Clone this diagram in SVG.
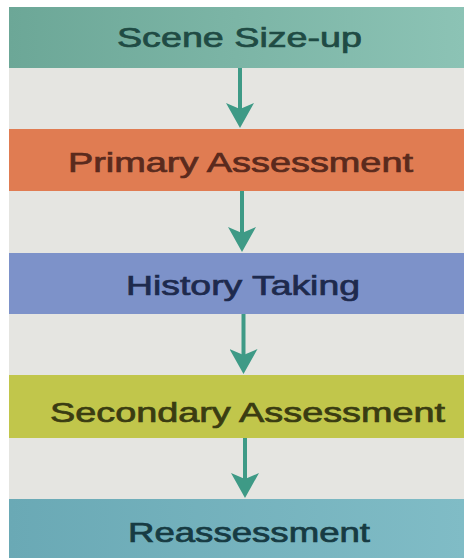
<svg xmlns="http://www.w3.org/2000/svg" width="464" height="558" viewBox="0 0 464 558">
  <defs>
    <marker id="head" viewBox="0 0 25 28" refX="13" refY="14" markerWidth="25" markerHeight="28" markerUnits="userSpaceOnUse" orient="auto">
      <path d="M0,0 L25,14 L0,28 L6,14 Z" fill="#3e9a86"/>
    </marker>
    <linearGradient id="g1" x1="0" x2="1" y1="0" y2="0">
      <stop offset="0" stop-color="#6ca797"/>
      <stop offset="1" stop-color="#8cc3b5"/>
    </linearGradient>
    <linearGradient id="g5" x1="0" x2="1" y1="0" y2="0">
      <stop offset="0" stop-color="#6aa9b5"/>
      <stop offset="1" stop-color="#80bcc6"/>
    </linearGradient>
  </defs>
  <style>
    .lbl { font-family: "Liberation Sans", Arial, sans-serif; font-size: 27px; text-anchor: middle; stroke-width: 0.7; }
    .conn { stroke: #3e9a86; stroke-width: 4; fill: none; marker-end: url(#head); }
  </style>
  <rect x="0" y="0" width="464" height="558" fill="#ffffff"/>
  <rect x="9" y="7" width="455" height="551" fill="#e5e5e1"/>

  <g id="scene-size-up">
    <rect x="9" y="7" width="455" height="61" fill="url(#g1)"/>
    <text class="lbl" x="239.5" y="47" textLength="245" lengthAdjust="spacingAndGlyphs" fill="#1f4b44" stroke="#1f4b44">Scene Size-up</text>
  </g>
  <g id="primary-assessment">
    <rect x="9" y="129" width="455" height="62" fill="#e07c52"/>
    <text class="lbl" x="240.5" y="172" textLength="345" lengthAdjust="spacingAndGlyphs" fill="#5a2a1d" stroke="#5a2a1d">Primary Assessment</text>
  </g>
  <g id="history-taking">
    <rect x="9" y="253" width="455" height="61" fill="#7d92c9"/>
    <text class="lbl" x="243" y="295" textLength="234" lengthAdjust="spacingAndGlyphs" fill="#1e2a4d" stroke="#1e2a4d">History Taking</text>
  </g>
  <g id="secondary-assessment">
    <rect x="9" y="375" width="455" height="63" fill="#c1c64b"/>
    <text class="lbl" x="247.5" y="422" textLength="395" lengthAdjust="spacingAndGlyphs" fill="#3a3c12" stroke="#3a3c12">Secondary Assessment</text>
  </g>
  <g id="reassessment">
    <rect x="9" y="499" width="455" height="59" fill="url(#g5)"/>
    <text class="lbl" x="249" y="542" textLength="242" lengthAdjust="spacingAndGlyphs" fill="#173b43" stroke="#173b43">Reassessment</text>
  </g>

  <g id="connectors">
    <line class="conn" x1="240" y1="68" x2="240" y2="116"/>
    <line class="conn" x1="242" y1="191" x2="242" y2="240"/>
    <line class="conn" x1="243.5" y1="314" x2="243.5" y2="362"/>
    <line class="conn" x1="245" y1="438" x2="245" y2="486"/>
  </g>
</svg>
